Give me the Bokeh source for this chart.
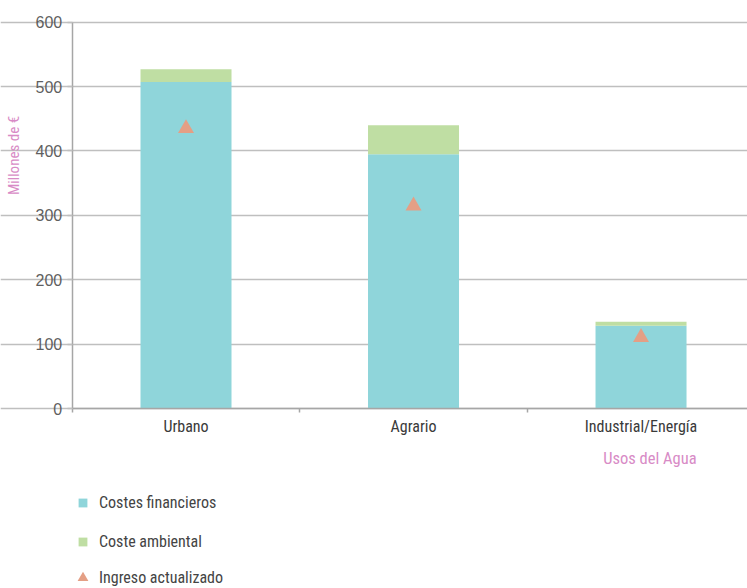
import math
from bokeh.plotting import figure
from bokeh.models import Range1d, FixedTicker, Label, Legend, LegendItem, ColumnDataSource
from bokeh.embed import file_html
from bokeh.resources import INLINE

# ---- data ----
categories = ["Urbano", "Agrario", "Industrial/Energía"]
costes_financieros = [507, 395, 129]
coste_ambiental = [20, 45, 6]
ingreso_actualizado = [435, 315, 111]
y_ticks = [0, 100, 200, 300, 400, 500, 600]

COL_FIN = "#8fd5da"
COL_AMB = "#bfdea3"
COL_ING = "#e49f85"
PINK = "#d88bc6"
NARROW = "Liberation Sans Narrow, Roboto Condensed, Liberation Sans"

xpos = list(range(len(categories)))
boundaries = [i - 0.5 for i in range(len(categories) + 1)]
top_amb = [a + b for a, b in zip(costes_financieros, coste_ambiental)]

src = ColumnDataSource(dict(x=xpos, fin=costes_financieros, amb_top=top_amb,
                            ing=ingreso_actualizado))

X0, X1 = -0.8154, 2.468
Y0, Y1 = -278.8, 633.5

p = figure(width=747, height=588, output_backend="svg", toolbar_location=None,
           x_range=Range1d(X0, X1), y_range=Range1d(Y0, Y1),
           min_border=0, min_border_left=0, min_border_right=0,
           min_border_top=0, min_border_bottom=0)
p.outline_line_color = None
p.background_fill_color = "white"
p.border_fill_color = "white"

r_fin = p.vbar(x="x", bottom=0, top="fin", width=0.4, source=src,
               fill_color=COL_FIN, line_color=None)
r_amb = p.vbar(x="x", bottom="fin", top="amb_top", width=0.4, source=src,
               fill_color=COL_AMB, line_color=None)
tri = p.scatter(x="x", y="ing", source=src, marker="triangle", size=16,
                fill_color=COL_ING, line_color=None)

# grid
p.xgrid.grid_line_color = None
p.ygrid.grid_line_color = "#bfbfbf"
p.ygrid.grid_line_width = 1.5
p.ygrid.ticker = FixedTicker(ticks=y_ticks)
p.ygrid.bounds = (-0.5, X1)

# y axis
ya = p.yaxis[0]
ya.fixed_location = -0.5
ya.bounds = (0, 600)
ya.ticker = FixedTicker(ticks=y_ticks)
ya.axis_line_color = "#a6a6a6"
ya.axis_line_width = 1.5
ya.major_tick_line_color = "#bfbfbf"
ya.major_tick_line_width = 1.5
ya.major_tick_out = 5
ya.major_tick_in = 0
ya.minor_tick_line_color = None
ya.major_label_standoff = 5
ya.major_label_text_font = "Liberation Sans"
ya.major_label_text_font_size = "16px"
ya.major_label_text_color = "#5f5f5f"

# x axis
xa = p.xaxis[0]
xa.fixed_location = 0
xa.bounds = (-0.5, X1)
xa.ticker = FixedTicker(ticks=xpos, minor_ticks=boundaries)
xa.major_label_overrides = {i: c for i, c in zip(xpos, categories)}
xa.axis_line_color = "#a6a6a6"
xa.axis_line_width = 1.5
xa.major_tick_line_color = None
xa.minor_tick_line_color = "#a6a6a6"
xa.minor_tick_line_width = 1.5
xa.minor_tick_out = 4
xa.minor_tick_in = 0
xa.major_tick_out = 0
xa.major_tick_in = 0
xa.major_label_standoff = 4
xa.major_label_text_font = NARROW
xa.major_label_text_font_size = "16px"
xa.major_label_text_color = "#3a3a3a"

# axis titles
p.add_layout(Label(x=2.244, y=-77, text="Usos del Agua", text_align="right",
                   text_baseline="middle", text_font=NARROW,
                   text_font_size="16.5px", text_color=PINK))
p.add_layout(Label(x=-0.756, y=393, text="Millones de €", angle=math.pi / 2,
                   text_align="center", text_baseline="middle",
                   text_font=NARROW, text_font_size="15px", text_color=PINK))

# legends
common = dict(padding=0, margin=0, border_line_color=None, background_fill_alpha=0,
              label_text_font=NARROW, label_text_font_size="16px",
              label_text_color="#444444", label_text_baseline="middle")
leg_bars = Legend(items=[LegendItem(label="Costes financieros", renderers=[r_fin]),
                         LegendItem(label="Coste ambiental", renderers=[r_amb])],
                  location=(77, 37), glyph_width=11, glyph_height=11,
                  label_height=11, spacing=20, label_standoff=11, **common)
leg_tri = Legend(items=[LegendItem(label="Ingreso actualizado", renderers=[tri])],
                 location=(69, -3), glyph_width=27, glyph_height=27,
                 label_height=27, spacing=0, label_standoff=3, **common)
p.add_layout(leg_bars)
p.add_layout(leg_tri)

open("out.html", "w").write(file_html(p, INLINE))
